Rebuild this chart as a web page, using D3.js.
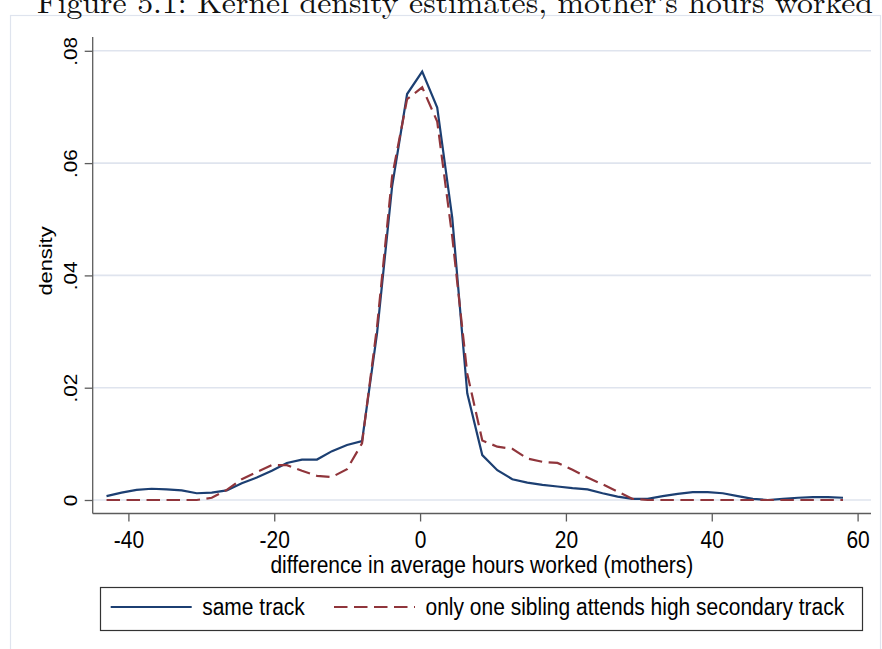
<!DOCTYPE html>
<html>
<head>
<meta charset="utf-8">
<script src="https://cdn.jsdelivr.net/npm/d3@7/dist/d3.min.js"></script>
<style>
  html, body { margin: 0; padding: 0; background: #ffffff; }
  svg { display: block; }
</style>
</head>
<body>
<svg id="chart" width="882" height="649"></svg>
<script>
// Kernel density evaluation points (hours difference)
const xPoints = [-43.00, -40.94, -38.88, -36.82, -34.76, -32.69, -30.63, -28.57, -26.51, -24.45,
                 -22.39, -20.33, -18.27, -16.20, -14.14, -12.08, -10.02, -7.96, -5.90, -3.84,
                 -1.78, 0.29, 2.35, 4.41, 6.47, 8.53, 10.59, 12.65, 14.71, 16.78,
                 18.84, 20.90, 22.96, 25.02, 27.08, 29.14, 31.20, 33.27, 35.33, 37.39,
                 39.45, 41.51, 43.57, 45.63, 47.69, 49.76, 51.82, 53.88, 55.94, 58.00];

// Density: siblings in the same track
const sameTrack = [0.0007, 0.0013, 0.0018, 0.0020, 0.0019, 0.0017, 0.0012, 0.0013, 0.0017, 0.0030,
                   0.0040, 0.0052, 0.0066, 0.0072, 0.0072, 0.0087, 0.0098, 0.0105, 0.0297, 0.0558,
                   0.0723, 0.0763, 0.0699, 0.0503, 0.0190, 0.0080, 0.0053, 0.0037, 0.0031, 0.0027,
                   0.0024, 0.0021, 0.0019, 0.0012, 0.0006, 0.0002, 0.0002, 0.0007, 0.0011, 0.0014,
                   0.0014, 0.0012, 0.0007, 0.0002, 0.0000, 0.0002, 0.0004, 0.0005, 0.0005, 0.0004];

// Density: only one sibling attends the high secondary track
const oneHigh = [0, 0, 0, 0, 0, 0, 0, 0.0004, 0.0018, 0.0037,
                 0.0050, 0.0062, 0.0062, 0.0052, 0.0043, 0.0041, 0.0055, 0.0101, 0.0309, 0.0576,
                 0.0714, 0.0735, 0.0674, 0.0469, 0.0225, 0.0106, 0.0095, 0.0091, 0.0074, 0.0068,
                 0.0066, 0.0054, 0.0040, 0.0028, 0.0015, 0.0002, 0, 0, 0, 0,
                 0, 0, 0, 0, 0, 0, 0, 0, 0, 0];

const xTicks = [-40, -20, 0, 20, 40, 60];
const yTicks = [0, 0.02, 0.04, 0.06, 0.08];
const yTickLabels = ["0", ".02", ".04", ".06", ".08"];

const seriesNames = ["same track", "only one sibling attends high secondary track"];
const titleText = "Figure 5.1: Kernel density estimates, mother\u2019s hours worked";
const xTitle = "difference in average hours worked (mothers)";
const yTitle = "density";

// ---- layout ----
const SANS = "'Liberation Sans', Arial, Helvetica, sans-serif";
const SY = 1.15;              // tall glyph proportions of the graph text
const plot = { left: 92.7, right: 871, top: 37, bottom: 513.5 };
const BLUE = "#1c3f72", RED = "#90353b", GRID = "#dfe4ee", AXIS = "#5c5c5c";
const DASH = "13.5,6.5";

const svg = d3.select("#chart");

const x = d3.scaleLinear().domain([-40, 60]).range([128.4, 857.6]);
const y = d3.scaleLinear().domain([0, 0.08]).range([500, 50.8]);

// outer graph region outline
svg.append("rect")
  .attr("x", 10.5).attr("y", 15.5).attr("width", 870).attr("height", 660)
  .attr("fill", "none").attr("stroke", GRID).attr("stroke-width", 1.2);

// document caption above the graph
svg.append("text")
  .attr("x", 37).attr("y", 13)
  .attr("font-family", "'Latin Modern Roman', 'CMU Serif', 'Liberation Serif', 'DejaVu Serif', serif")
  .attr("font-size", 30)
  .attr("textLength", 836).attr("lengthAdjust", "spacingAndGlyphs")
  .attr("fill", "#111")
  .text(titleText);

// horizontal gridlines
svg.append("g").selectAll("line").data(yTicks).join("line")
  .attr("x1", plot.left).attr("x2", plot.right)
  .attr("y1", d => y(d)).attr("y2", d => y(d))
  .attr("stroke", GRID).attr("stroke-width", 1.6);

// y axis
const yAxis = svg.append("g")
  .attr("transform", `translate(${plot.left},0)`)
  .call(d3.axisLeft(y).tickValues(yTicks).tickSize(8).tickSizeOuter(0)
        .tickFormat((d, i) => yTickLabels[i]));
yAxis.select(".domain").remove();
yAxis.selectAll(".tick line").attr("stroke", AXIS).attr("stroke-width", 1.3);
yAxis.selectAll(".tick text")
  .attr("x", null).attr("y", null).attr("dy", null)
  .attr("transform", `translate(-15.4,0) scale(1,${SY}) rotate(-90)`)
  .attr("text-anchor", "middle")
  .attr("font-family", SANS).attr("font-size", 18).attr("fill", "#000");

// x axis
const xAxis = svg.append("g")
  .attr("transform", `translate(0,${plot.bottom})`)
  .call(d3.axisBottom(x).tickValues(xTicks).tickSize(8).tickSizeOuter(0)
        .tickFormat(d => String(d)));
xAxis.select(".domain").remove();
xAxis.selectAll(".tick line").attr("stroke", AXIS).attr("stroke-width", 1.3);
xAxis.selectAll(".tick text")
  .attr("x", null).attr("y", null).attr("dy", null)
  .attr("transform", `translate(0,34) scale(1,${SY})`)
  .attr("text-anchor", "middle")
  .attr("font-family", SANS).attr("font-size", 21).attr("fill", "#000");

// axis lines
svg.append("line")
  .attr("x1", plot.left).attr("x2", plot.left).attr("y1", plot.top).attr("y2", plot.bottom)
  .attr("stroke", AXIS).attr("stroke-width", 1.3);
svg.append("line")
  .attr("x1", plot.left).attr("x2", plot.right).attr("y1", plot.bottom).attr("y2", plot.bottom)
  .attr("stroke", AXIS).attr("stroke-width", 1.3);

// axis titles
svg.append("text")
  .attr("transform", `translate(${(plot.left + plot.right) / 2},572.5) scale(1,${SY})`)
  .attr("text-anchor", "middle")
  .attr("font-family", SANS).attr("font-size", 21).attr("fill", "#000")
  .text(xTitle);
svg.append("text")
  .attr("transform", `translate(52,261) scale(1,${SY}) rotate(-90)`)
  .attr("text-anchor", "middle")
  .attr("font-family", SANS).attr("font-size", 19).attr("fill", "#000")
  .text(yTitle);

// density curves
const line = d3.line().x(d => x(d[0])).y(d => y(d[1]));
const blueData = xPoints.map((v, i) => [v, sameTrack[i]]);
const redData = xPoints.map((v, i) => [v, oneHigh[i]]);

svg.append("path").datum(blueData)
  .attr("d", line).attr("fill", "none")
  .attr("stroke", BLUE).attr("stroke-width", 2.2).attr("stroke-linejoin", "miter");
svg.append("path").datum(redData)
  .attr("d", line).attr("fill", "none")
  .attr("stroke", RED).attr("stroke-width", 2.2).attr("stroke-dasharray", DASH);

// legend
const leg = svg.append("g");
leg.append("rect")
  .attr("x", 100.5).attr("y", 587.5).attr("width", 762).attr("height", 43)
  .attr("fill", "#fff").attr("stroke", "#333").attr("stroke-width", 1.2);
const legItems = [
  { name: seriesNames[0], color: BLUE, dash: null, x0: 110.7 },
  { name: seriesNames[1], color: RED, dash: DASH, x0: 334 }
];
legItems.forEach(it => {
  leg.append("line")
    .attr("x1", it.x0).attr("x2", it.x0 + 81).attr("y1", 607).attr("y2", 607)
    .attr("stroke", it.color).attr("stroke-width", 2.2)
    .attr("stroke-dasharray", it.dash);
  leg.append("text")
    .attr("transform", `translate(${it.x0 + 91.5},615) scale(1,${SY})`)
    .attr("font-family", SANS).attr("font-size", 21).attr("fill", "#000")
    .text(it.name);
});
</script>
</body>
</html>
